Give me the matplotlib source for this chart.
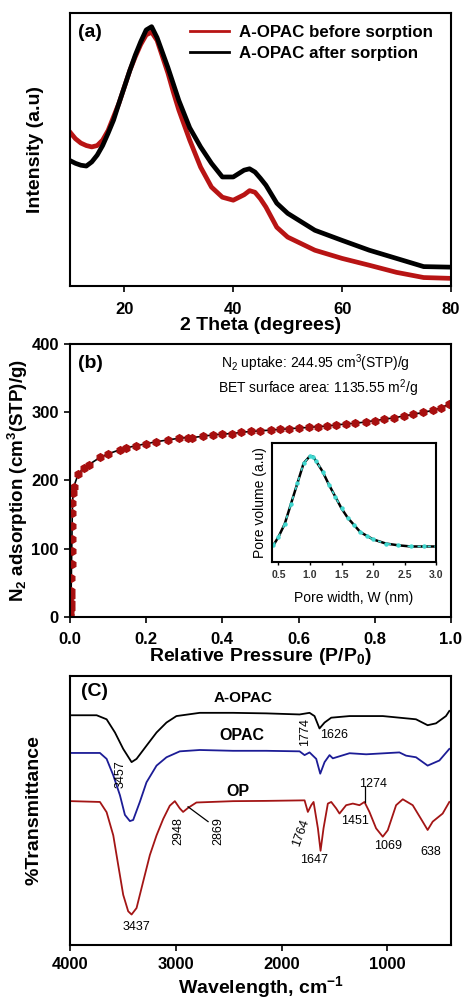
import matplotlib
matplotlib.use("Agg")
import matplotlib.pyplot as plt

plt.rcParams['font.family'] = ['Liberation Sans', 'DejaVu Sans']
plt.rcParams['mathtext.fontset'] = 'custom'
plt.rcParams['mathtext.rm'] = 'Liberation Sans'
plt.rcParams['mathtext.bf'] = 'Liberation Sans:bold'
plt.rcParams['mathtext.it'] = 'Liberation Sans:italic'
plt.rcParams['axes.linewidth'] = 1.5

# (a) XRD
xrd_theta = [10, 11, 12, 13, 14, 15, 16, 17, 18, 19, 20, 21, 22, 23, 24, 25, 26, 27, 28, 29, 30,
             32, 34, 36, 38, 40, 42, 43, 44, 45, 46, 48, 50, 55, 60, 65, 70, 75, 80]
xrd_before = [56.4, 54, 52.4, 51.5, 51, 51.5, 53.5, 57, 62, 67, 73, 79, 84, 88.5, 92, 93, 90, 84, 78, 71, 64.5,
              53.5, 43.6, 36.3, 32.6, 31.5, 33.5, 35, 34.4, 32, 29, 21.6, 18, 13.2, 10.2, 7.7, 5.1, 3.2, 2.9]
xrd_after = [46, 45, 44.3, 44, 45.5, 48, 51.5, 56, 60.8, 67, 73, 79, 84.6, 89.5, 93.8, 95, 91, 85.5, 80, 74, 68,
             58, 51, 45, 40, 40, 42.5, 43, 41.8, 39.5, 37, 30.4, 26.7, 20.5, 16.8, 13.2, 10.2, 7.2, 7]

# (b) N2 isotherm
iso_p = [0.0005, 0.001, 0.0015, 0.002, 0.0025, 0.003, 0.0035, 0.004, 0.0045, 0.005, 0.0055, 0.006, 0.0065,
         0.008, 0.01, 0.022, 0.036, 0.049, 0.079, 0.10, 0.13, 0.148, 0.173, 0.20, 0.227, 0.256, 0.286, 0.31,
         0.32, 0.35, 0.376, 0.40, 0.425, 0.449, 0.474, 0.50, 0.527, 0.551, 0.575, 0.60, 0.627, 0.651, 0.675,
         0.699, 0.724, 0.748, 0.777, 0.80, 0.825, 0.85, 0.878, 0.90, 0.927, 0.952, 0.975, 0.994]
iso_v = [1, 6, 13, 20.5, 30, 37.6, 57, 76.6, 96, 114, 133, 152, 167,
         181, 191, 210, 218, 223, 234, 239, 245, 248, 251, 254, 257, 259.5, 262, 263,
         263, 265, 267, 268, 269, 270.7, 272, 273, 274, 275, 276, 277, 278, 279, 280,
         281.5, 283, 284, 286, 288, 290, 292, 295, 297, 300, 303, 307, 312]

# (b) inset pore size distribution
psd_w = [0.42, 0.5, 0.6, 0.7, 0.8, 0.9, 1.0, 1.05, 1.1, 1.2, 1.3, 1.4, 1.5, 1.6, 1.7, 1.8, 1.9, 2.0,
         2.2, 2.4, 2.6, 2.8, 3.0]
psd_v = [0.14, 0.21, 0.32, 0.49, 0.66, 0.83, 0.89, 0.885, 0.845, 0.76, 0.65, 0.55, 0.45, 0.37, 0.31,
         0.25, 0.22, 0.19, 0.155, 0.14, 0.13, 0.13, 0.13]

# (c) FTIR
aopac_wn = [3984, 3748, 3654, 3575, 3497, 3418, 3371, 3277, 3182, 3088, 2994, 2774, 2459, 2145, 1830,
            1736, 1689, 1642, 1594, 1531, 1358, 1044, 730, 620, 541, 447, 415]
aopac_t = [85.3, 85.3, 83.8, 78.9, 72.8, 67.9, 69.1, 74, 78.9, 82.6, 85, 86.2, 86.2, 86, 85.6,
           86.2, 85, 80.4, 82.6, 84.4, 85, 85, 83.8, 81.6, 82.3, 85, 86.9]
opac_wn = [3984, 3717, 3654, 3591, 3528, 3481, 3434, 3403, 3340, 3277, 3182, 3088, 2962, 2774, 2459,
           2145, 1830, 1783, 1736, 1673, 1635, 1594, 1547, 1516, 1358, 1201, 887, 824, 730, 620, 509, 415]
opac_t = [71.3, 71.3, 69.1, 63, 55.6, 48.3, 46, 46.4, 53.1, 60.4, 66.6, 69.7, 71.9, 72.4, 72.1,
          72.1, 71.9, 70.5, 71.5, 69.1, 63.6, 67.9, 70.5, 69.3, 71.2, 70.8, 71.5, 70.3, 69.7, 66.6, 68.5, 72.8]
op_wn = [3984, 3717, 3654, 3591, 3544, 3497, 3450, 3418, 3371, 3308, 3245, 3182, 3119, 3057, 3009,
         2962, 2931, 2884, 2805, 2459, 2145, 1783, 1752, 1720, 1698, 1657, 1632, 1604, 1563, 1531,
         1484, 1453, 1390, 1327, 1264, 1217, 1170, 1107, 1044, 997, 918, 855, 761, 667, 620, 572, 478, 415]
op_t = [53.4, 53.1, 49.3, 40.7, 29.6, 18.6, 12.5, 11.3, 13.7, 23.6, 33.4, 40.7, 46.8, 51.7, 53.4,
        50.7, 49.4, 50.9, 52.9, 53.4, 53.5, 53.7, 49.4, 51.9, 53.1, 43.3, 34.97, 43.3, 52.5, 53.1,
        50.7, 48.8, 51.9, 52.5, 51.9, 53.1, 49.4, 43.3, 40.2, 42.6, 51.9, 54.1, 51.9, 45.8, 42.7, 45.8, 48.8, 53.1]

fig = plt.figure(figsize=(4.62, 10.01), dpi=100)

tick_kw = dict(labelsize=12, width=1.2, length=4, direction='out', pad=7)

# ---------- (a)
ax1 = fig.add_axes([0.1515, 0.714, 0.8245, 0.273])
ax1.plot(xrd_theta, xrd_before, color='#b81414', lw=3.4, label='A-OPAC before sorption')
ax1.plot(xrd_theta, xrd_after, color='black', lw=3.4, label='A-OPAC after sorption')
ax1.set_xlim(10, 80)
ax1.set_ylim(0, 100)
ax1.set_xticks([20, 40, 60, 80])
ax1.set_yticks([])
ax1.tick_params(axis='x', **tick_kw)
for lab in ax1.get_xticklabels():
    lab.set_fontweight('bold')
ax1.set_xlabel('2 Theta (degrees)', fontsize=14, fontweight='bold', labelpad=0)
ax1.set_ylabel('Intensity (a.u)', fontsize=14, fontweight='bold', labelpad=19)
ax1.text(0.02, 0.93, '(a)', transform=ax1.transAxes, fontsize=14, fontweight='bold', va='center')
leg = ax1.legend(loc='upper right', frameon=False, handlelength=2.3, handletextpad=0.6,
                 prop={'size': 12.2, 'weight': 'bold'}, borderaxespad=0.3, labelspacing=0.35,
                 bbox_to_anchor=(0.985, 1.0))
for h in leg.get_lines():
    h.set_linewidth(2)

# ---------- (b)
ax2 = fig.add_axes([0.1515, 0.384, 0.8245, 0.272])
ax2.plot(iso_p, iso_v, color='black', lw=1.2, marker='h', markersize=5.5,
         markerfacecolor='#a80f0f', markeredgecolor='#a80f0f')
ax2.set_xlim(0, 1.0)
ax2.set_ylim(0, 400)
ax2.set_xticks([0.0, 0.2, 0.4, 0.6, 0.8, 1.0])
ax2.set_yticks([0, 100, 200, 300, 400])
ax2.tick_params(axis='x', **tick_kw)
ax2.tick_params(axis='y', labelsize=12, width=1.2, length=4, direction='out', pad=4)
for lab in ax2.get_xticklabels() + ax2.get_yticklabels():
    lab.set_fontweight('bold')
ax2.set_xlabel(r'Relative Pressure (P/P$_\mathbf{0}$)', fontsize=14, fontweight='bold', labelpad=-1)
ax2.set_ylabel(r'N$_\mathbf{2}$ adsorption (cm$^\mathbf{3}$(STP)/g)', fontsize=13.5, fontweight='bold', labelpad=1)
ax2.text(0.02, 0.93, '(b)', transform=ax2.transAxes, fontsize=14, fontweight='bold', va='center')
ax2.text(0.645, 373, r'N$_2$ uptake: 244.95 cm$^3$(STP)/g', fontsize=10, ha='center', va='center')
ax2.text(0.65, 335, r'BET surface area: 1135.55 m$^2$/g', fontsize=10, ha='center', va='center')

ins = fig.add_axes([0.589, 0.4386, 0.355, 0.1189])
ins.plot(psd_w, psd_v, color='black', lw=1.8)
ins.plot(psd_w, psd_v, color='#40d8d0', lw=1.2, ls=(0, (2, 4)), marker='o', markersize=2.2)
ins.set_xlim(0.4, 3.0)
ins.set_ylim(0, 1.0)
ins.set_xticks([0.5, 1.0, 1.5, 2.0, 2.5, 3.0])
ins.set_yticks([])
ins.tick_params(axis='x', labelsize=7.5, length=2, width=1, pad=4, labelcolor='#333333')
for lab in ins.get_xticklabels():
    lab.set_fontweight('bold')
ins.set_xlabel('Pore width, W (nm)', fontsize=10, labelpad=8)
ins.set_ylabel('Pore volume (a.u)', fontsize=10, labelpad=4)

# ---------- (c)
ax3 = fig.add_axes([0.1515, 0.056, 0.8245, 0.269])
ax3.plot(aopac_wn, aopac_t, color='black', lw=1.3)
ax3.plot(opac_wn, opac_t, color='#1c1c96', lw=1.3)
ax3.plot(op_wn, op_t, color='#a31515', lw=1.3)
ax3.set_xlim(4000, 400)
ax3.set_ylim(0, 100)
ax3.set_xticks([4000, 3000, 2000, 1000])
ax3.set_yticks([])
ax3.tick_params(axis='x', labelsize=12, width=1.2, length=4, direction='out', pad=5)
for lab in ax3.get_xticklabels():
    lab.set_fontweight('bold')
ax3.set_xlabel(r'Wavelength, cm$^{\mathbf{-1}}$', fontsize=14, fontweight='bold', labelpad=1)
ax3.set_ylabel('%Transmittance', fontsize=14, fontweight='bold', labelpad=20)
ax3.text(3764, 94.2, '(C)', fontsize=14, fontweight='bold', ha='center', va='center')
ax3.text(2365, 91.8, 'A-OPAC', fontsize=11, fontweight='bold', ha='center', va='center')
ax3.text(2380, 77.9, 'OPAC', fontsize=11.5, fontweight='bold', ha='center', va='center')
ax3.text(2412, 56.8, 'OP', fontsize=11.5, fontweight='bold', ha='center', va='center')
pk = dict(fontsize=9, ha='center', va='center')
ax3.text(3522, 63.6, '3457', rotation=90, **pk)
ax3.text(1783, 78.9, '1774', rotation=90, **pk)
ax3.text(1500, 77.9, '1626', **pk)
ax3.text(1138, 59.9, '1274', **pk)
ax3.plot([1213, 1213], [58.6, 53.1], color='black', lw=0.9)
ax3.text(2972, 42.3, '2948', rotation=90, **pk)
ax3.text(2601, 42.3, '2869', rotation=90, **pk)
ax3.plot([2884, 2695], [51.3, 45.8], color='black', lw=0.9)
ax3.text(1814, 41.5, '1764', rotation=70, **pk)
ax3.text(1311, 46, '1451', **pk)
ax3.text(1689, 31.7, '1647', **pk)
ax3.text(997, 36.6, '1069', **pk)
ax3.text(588, 34.7, '638', **pk)
ax3.text(3371, 6.5, '3437', **pk)

fig.savefig('out.png', dpi=100)
